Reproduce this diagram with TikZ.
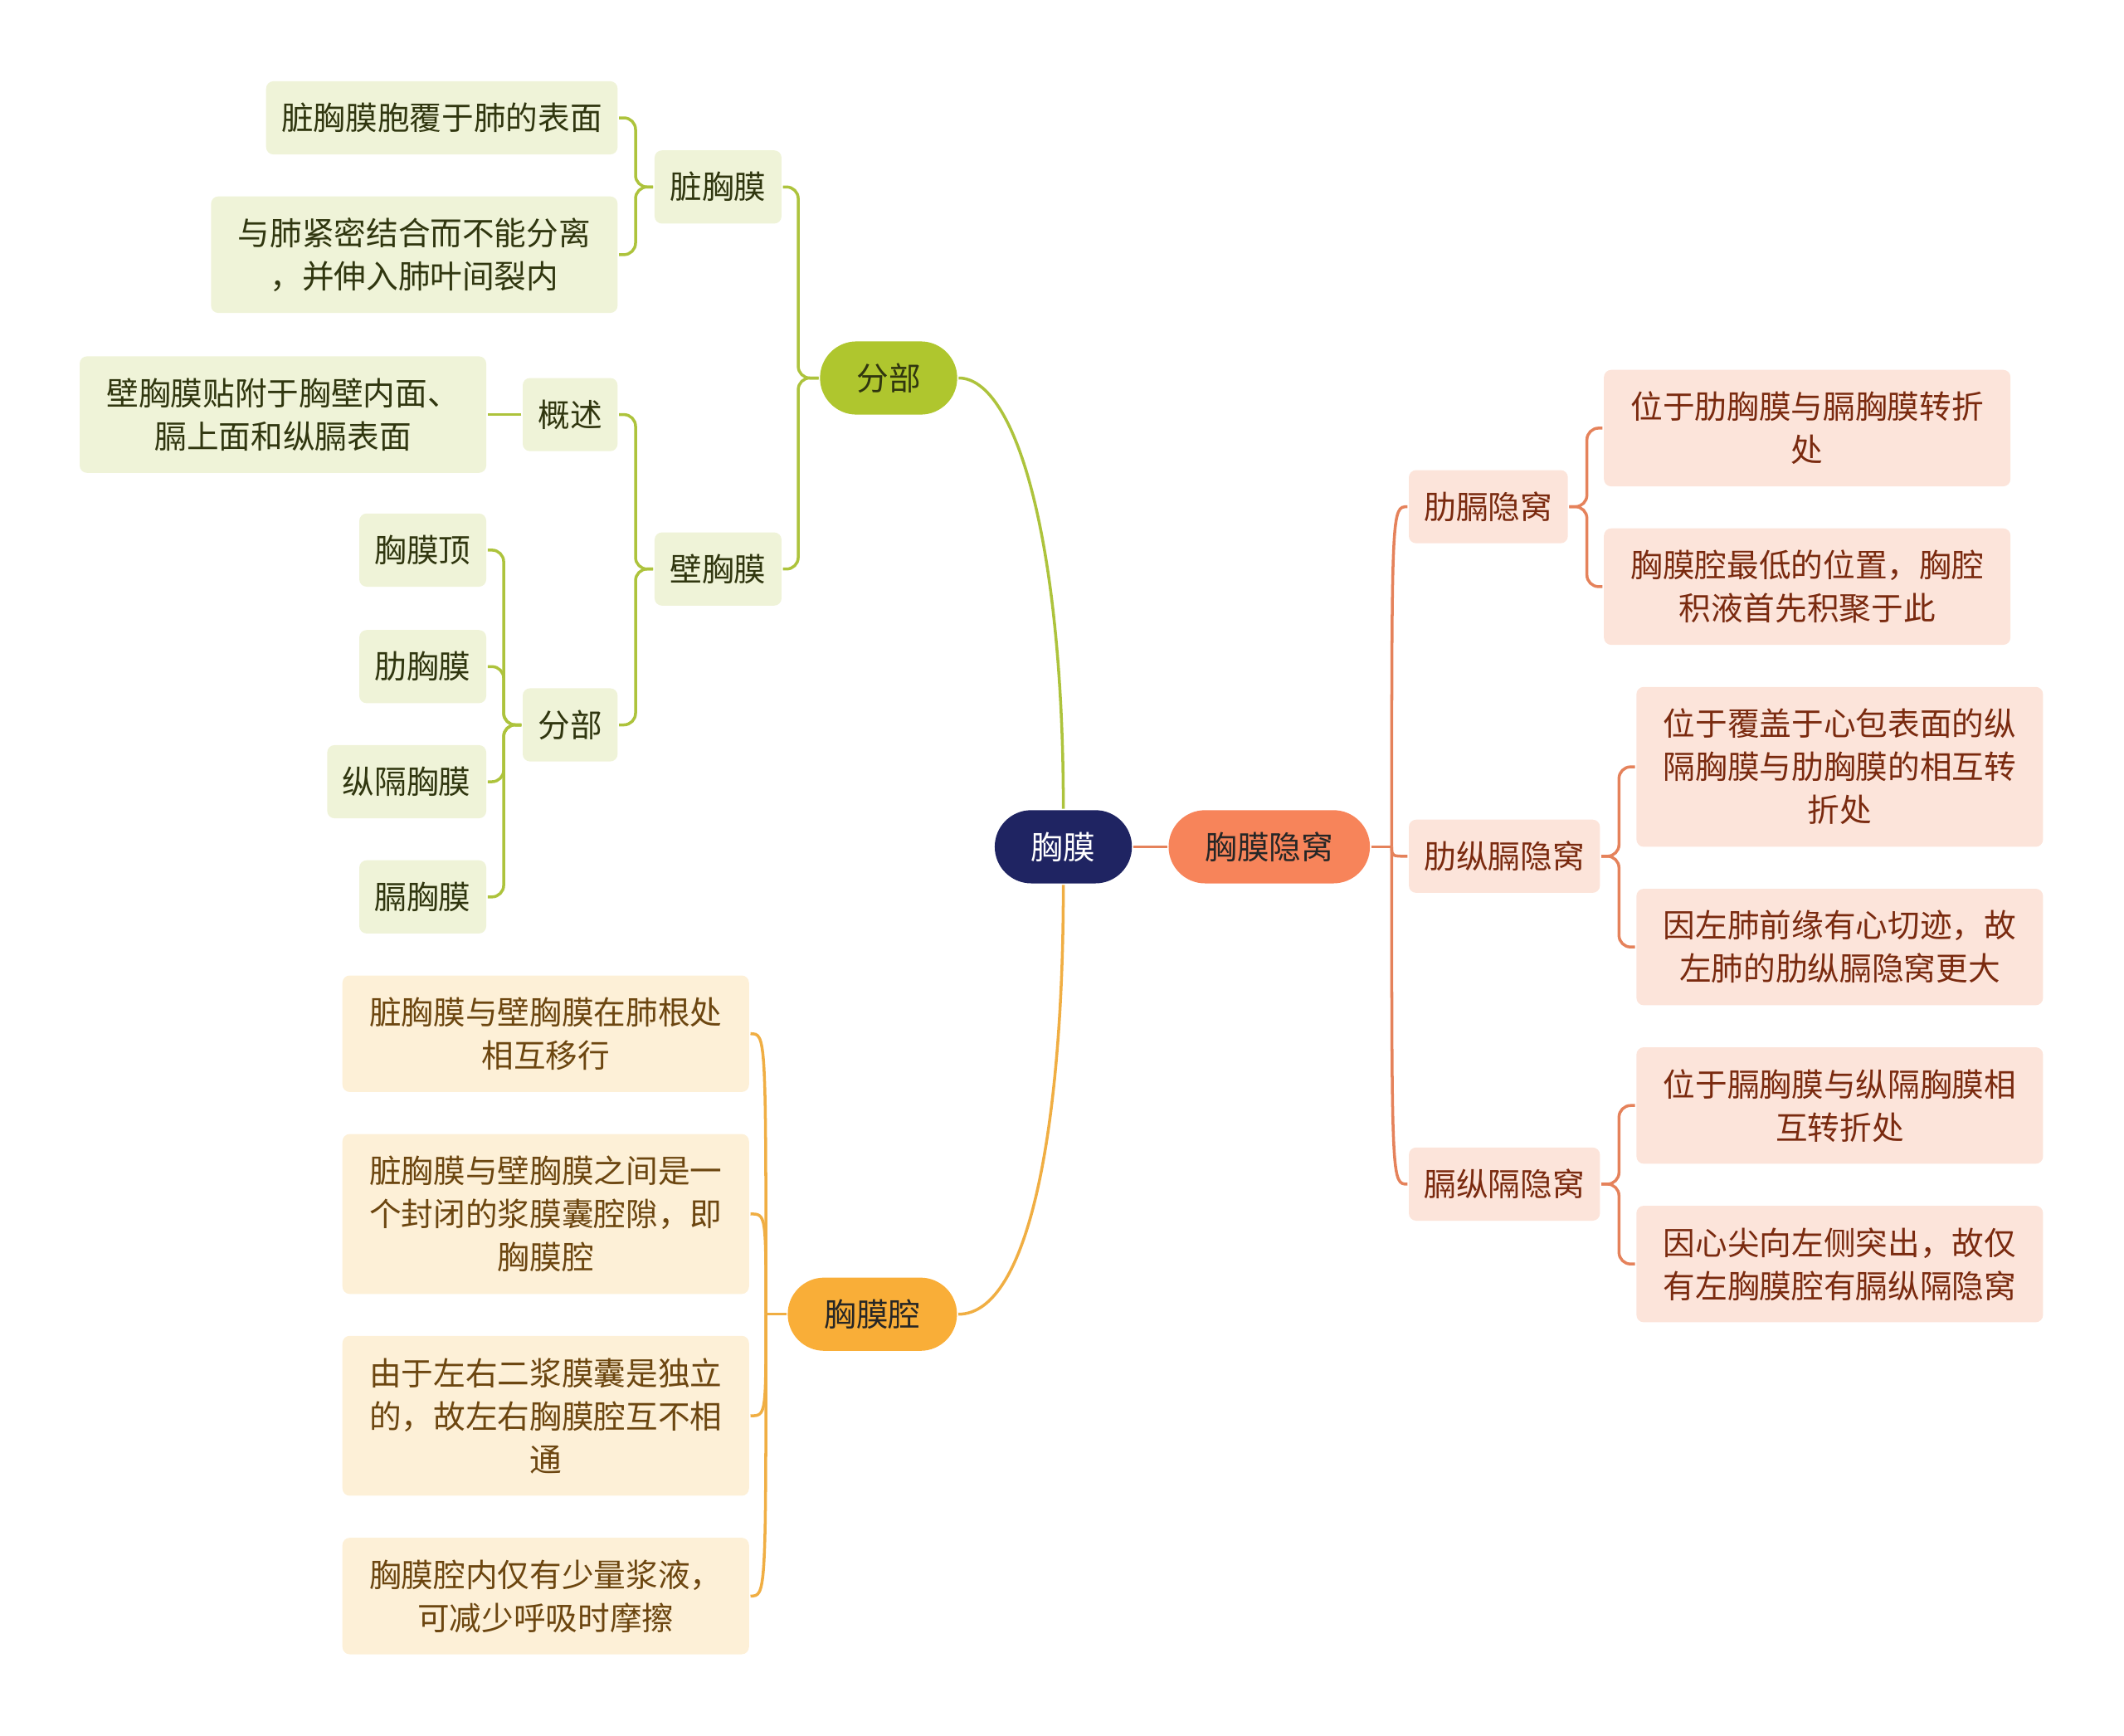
\documentclass[tikz,border=0pt]{standalone}
\usepackage{fontspec}
\setmainfont{Noto Sans CJK SC}
\usetikzlibrary{positioning}
\definecolor{cnavy}{HTML}{1F2462}
\definecolor{ccoral}{HTML}{F7845A}
\definecolor{colive}{HTML}{AFC62E}
\definecolor{camber}{HTML}{F9AE38}
\definecolor{cgline}{HTML}{ADC33C}
\definecolor{cgfill}{HTML}{EFF3D8}
\definecolor{cgtext}{HTML}{30360F}
\definecolor{crline}{HTML}{E5825B}
\definecolor{crfill}{HTML}{FCE4DA}
\definecolor{crtext}{HTML}{7A2A0F}
\definecolor{cyline}{HTML}{F0AE43}
\definecolor{cyfill}{HTML}{FDF0D7}
\definecolor{cytext}{HTML}{6C4610}
\tikzset{
  every picture/.style={font=\fontsize{11}{14.8}\selectfont, line width=1pt},
  pill/.style={fill=#1, rounded corners=0.44cm, minimum height=0.882cm, inner xsep=0.44cm, inner ysep=0pt},
  box/.style={rounded corners=2.5pt, minimum height=0.882cm, inner xsep=0.185cm, inner ysep=0pt, align=center},
  gbox/.style={box, fill=cgfill, text=cgtext},
  rbox/.style={box, fill=crfill, text=crtext},
  ybox/.style={box, fill=cyfill, text=cytext},
  widebox/.style={minimum width=4.9cm, minimum height=#1},
  widebox/.default=1.404cm,
  elbow/.style={draw=#1, rounded corners=4pt},
  conn/.style={draw=#1},
}

\begin{document}
\begin{tikzpicture}
  \useasboundingbox (0,0) rectangle (25.6,-20.914);
  % centre and first level
  \node[pill=cnavy, text=white] (root) at (12.816,-10.204) {胸膜};
  \node[pill=ccoral, text=black!85] (yinwo) at (15.298,-10.204) {胸膜隐窝};
  \node[pill=colive, text=cgtext] (fenbu) at (10.710,-4.555) {分部};
  \node[pill=camber, text=black!85] (qiang) at (10.514,-15.837) {胸膜腔};
  \draw[conn=cgline] (root.north) .. controls (12.816,-6.531) and (12.245,-4.555) .. (fenbu.east);
  \draw[conn=cyline] (root.south) .. controls (12.816,-13.551) and (12.408,-15.837) .. (qiang.east);
  \draw[conn=crline] (root.east) -- (yinwo.west);

  % 分部: visceral / parietal
  \node[gbox, anchor=east] (zang) at (9.437,-2.253) {脏胸膜};
  \node[gbox, anchor=east] (bi) at (9.437,-6.857) {壁胸膜};
  \foreach \c in {zang,bi} \draw[elbow=cgline] (fenbu.west) -- ++(-0.245,0) |- (\c.east);
  \node[gbox, anchor=east] (zang1) at (7.461,-1.420) {脏胸膜胞覆于肺的表面};
  \node[gbox, widebox, anchor=east] (zang2) at (7.461,-3.069) {与肺紧密结合而不能分离\\，并伸入肺叶间裂内};
  \foreach \c in {zang1,zang2} \draw[elbow=cgline] (zang.west) -- ++(-0.212,0) |- (\c.east);
  \node[gbox, anchor=east] (gaishu) at (7.461,-4.996) {概述};
  \node[gbox, anchor=east] (fb2) at (7.461,-8.735) {分部};
  \foreach \c in {gaishu,fb2} \draw[elbow=cgline] (bi.west) -- ++(-0.212,0) |- (\c.east);
  \node[gbox, widebox, anchor=east] (gaishu1) at (5.878,-4.996) {壁胸膜贴附于胸壁内面、\\膈上面和纵膈表面};
  \draw[conn=cgline] (gaishu.west) -- (gaishu1.east);
  \node[gbox, anchor=east] (ding) at (5.878,-6.629) {胸膜顶};
  \node[gbox, anchor=east] (lei) at (5.878,-8.033) {肋胸膜};
  \node[gbox, anchor=east] (zongge) at (5.878,-9.420) {纵隔胸膜};
  \node[gbox, anchor=east] (ge) at (5.878,-10.808) {膈胸膜};
  \foreach \c in {ding,lei,zongge,ge} \draw[elbow=cgline] (fb2.west) -- ++(-0.212,0) |- (\c.east);

  % 胸膜隐窝
  \node[rbox, anchor=west] (lg) at (16.963,-6.106) {肋膈隐窝};
  \node[rbox, anchor=west] (lz) at (16.963,-10.318) {肋纵膈隐窝};
  \node[rbox, anchor=west] (gz) at (16.963,-14.269) {膈纵隔隐窝};
  \draw[conn=crline] (yinwo.east) -- ++(0.245,0) coordinate (yj);
  \foreach \c in {lg,lz,gz} \draw[conn=crline] (yj) .. controls (yj |- \c.west) .. (\c.west);
  \node[rbox, widebox, anchor=west] (lg1) at (19.314,-5.159) {位于肋胸膜与膈胸膜转折\\处};
  \node[rbox, widebox, anchor=west] (lg2) at (19.314,-7.069) {胸膜腔最低的位置，胸腔\\积液首先积聚于此};
  \foreach \c in {lg1,lg2} \draw[elbow=crline] (lg.east) -- ++(0.212,0) |- (\c.west);
  \node[rbox, widebox=1.927cm, anchor=west] (lz1) at (19.706,-9.241) {位于覆盖于心包表面的纵\\隔胸膜与肋胸膜的相互转\\折处};
  \node[rbox, widebox, anchor=west] (lz2) at (19.706,-11.412) {因左肺前缘有心切迹，故\\左肺的肋纵膈隐窝更大};
  \foreach \c in {lz1,lz2} \draw[elbow=crline] (lz.east) -- ++(0.212,0) |- (\c.west);
  \node[rbox, widebox, anchor=west] (gz1) at (19.706,-13.322) {位于膈胸膜与纵隔胸膜相\\互转折处};
  \node[rbox, widebox, anchor=west] (gz2) at (19.706,-15.232) {因心尖向左侧突出，故仅\\有左胸膜腔有膈纵隔隐窝};
  \foreach \c in {gz1,gz2} \draw[elbow=crline] (gz.east) -- ++(0.212,0) |- (\c.west);

  % 胸膜腔
  \node[ybox, widebox, anchor=east] (q1) at (9.045,-12.457) {脏胸膜与壁胸膜在肺根处\\相互移行};
  \node[ybox, widebox=1.927cm, anchor=east] (q2) at (9.045,-14.629) {脏胸膜与壁胸膜之间是一\\个封闭的浆膜囊腔隙，即\\胸膜腔};
  \node[ybox, widebox=1.927cm, anchor=east] (q3) at (9.045,-17.061) {由于左右二浆膜囊是独立\\的，故左右胸膜腔互不相\\通};
  \node[ybox, widebox, anchor=east] (q4) at (9.045,-19.233) {胸膜腔内仅有少量浆液，\\可减少呼吸时摩擦};
  \draw[conn=cyline] (qiang.west) -- ++(-0.245,0) coordinate (qj);
  \foreach \c in {q1,q2,q3,q4} \draw[conn=cyline] (qj) .. controls (qj |- \c.east) .. (\c.east);
\end{tikzpicture}
\end{document}
